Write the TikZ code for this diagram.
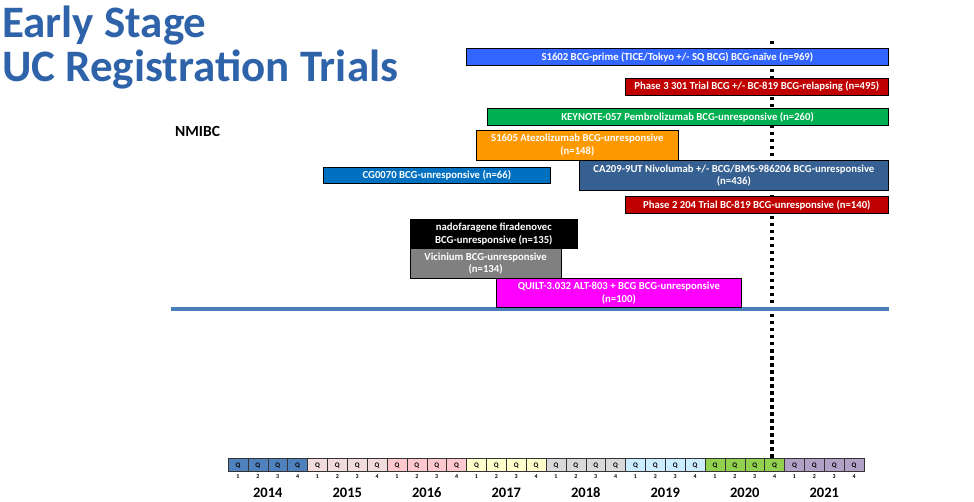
\documentclass[tikz,border=0pt]{standalone}
\usepackage{fontspec}
\setmainfont{Carlito}
\definecolor{titleblue}{RGB}{46,99,170}
\definecolor{cBlueA}{RGB}{51,102,255}
\definecolor{cRed}{RGB}{192,0,0}
\definecolor{cGreen}{RGB}{0,176,80}
\definecolor{cOrange}{RGB}{255,153,0}
\definecolor{cBlueB}{RGB}{0,112,192}
\definecolor{cSteel}{RGB}{55,96,146}
\definecolor{cGray}{RGB}{128,128,128}
\definecolor{cMag}{RGB}{255,0,255}
\definecolor{lineblue}{RGB}{74,126,187}
\definecolor{y14}{RGB}{79,129,189}
\definecolor{y15}{RGB}{242,220,219}
\definecolor{y16}{RGB}{255,199,206}
\definecolor{y17}{RGB}{255,255,204}
\definecolor{y18}{RGB}{217,217,217}
\definecolor{y19}{RGB}{204,236,255}
\definecolor{y20}{RGB}{146,208,80}
\definecolor{y21}{RGB}{178,161,199}
\tikzset{
  trialbar/.style={draw=black, line width=0.7pt, text=white, font=\fontsize{10.7}{12.6}\selectfont\bfseries, align=center, inner sep=0pt, anchor=north west},
  qcell/.style={draw=black!80, line width=0.5pt},
  qlbl/.style={font=\fontsize{7}{7}\selectfont\bfseries, inner sep=0pt, anchor=base},
  qnum/.style={font=\fontsize{6}{6}\selectfont\bfseries, inner sep=0pt, anchor=base},
  yearlbl/.style={font=\fontsize{14.5}{16}\selectfont\bfseries, inner sep=0pt, anchor=base},
  titletext/.style={anchor=base west, inner sep=0pt, text=titleblue, font=\fontsize{45}{50}\selectfont\bfseries},
}
\begin{document}
\begin{tikzpicture}[x=1pt,y=-1pt]
\useasboundingbox (0,0) rectangle (974,502);
% title
\node[titletext] (t1) at (2,38) {Early Stage};
\node[titletext] (t2) at (2,82) {UC Registration Trials};
\node[anchor=base west, inner sep=0pt, font=\fontsize{15.5}{17}\selectfont\bfseries] (nmibc) at (175,137) {NMIBC};

% dotted vertical marker (behind bars)
\coordinate (vt) at (772,41);
\coordinate (vb) at (772,457.5);
\draw[black, line width=3.5pt, dash pattern=on 3.5pt off 3.5pt] (vt) -- (vb);

% divider line
\coordinate (hl) at (171,309);
\coordinate (hr) at (889,309);
\draw[lineblue, line width=4pt] (hl) -- (hr);

% bars
\node[trialbar, fill=cBlueA, minimum width=422pt, minimum height=17.5pt] (b1) at (466,48) {S1602 BCG-prime (TICE/Tokyo +/- SQ BCG) BCG-naïve (n=969)};
\node[trialbar, fill=cRed, minimum width=263pt, minimum height=17pt] (b2) at (625,78) {Phase 3 301 Trial BCG +/- BC-819 BCG-relapsing (n=495)};
\node[trialbar, fill=cGreen, minimum width=401.5pt, minimum height=17pt] (b3) at (486.5,108.5) {KEYNOTE-057 Pembrolizumab BCG-unresponsive (n=260)};
\node[trialbar, fill=cOrange, minimum width=202pt, minimum height=30pt] (b4) at (476,130) {S1605 Atezolizumab BCG-unresponsive\\(n=148)};
\node[trialbar, fill=cBlueB, minimum width=227pt, minimum height=16pt] (b5) at (323,167.5) {CG0070 BCG-unresponsive (n=66)};
\node[trialbar, fill=cSteel, minimum width=309pt, minimum height=29.5pt] (b6) at (579,160.5) {CA209-9UT Nivolumab +/- BCG/BMS-986206 BCG-unresponsive\\(n=436)};
\node[trialbar, fill=cRed, minimum width=263pt, minimum height=17.5pt] (b7) at (625,196) {Phase 2 204 Trial BC-819 BCG-unresponsive (n=140)};
\node[trialbar, fill=black, minimum width=167pt, minimum height=29pt] (b8) at (410,219.5) {nadofaragene firadenovec\\BCG-unresponsive (n=135)};
\node[trialbar, fill=cGray, minimum width=151.5pt, minimum height=29.5pt] (b9) at (409.5,248.5) {Vicinium BCG-unresponsive\\(n=134)};
\node[trialbar, fill=cMag, minimum width=245pt, minimum height=29pt] (b10) at (496,278) {QUILT-3.032 ALT-803 + BCG BCG-unresponsive\\(n=100)};

% timeline
\foreach \yr/\col [count=\i from 0] in {2014/y14,2015/y15,2016/y16,2017/y17,2018/y18,2019/y19,2020/y20,2021/y21}{
  \foreach \q in {1,2,3,4}{
    \pgfmathsetmacro{\xa}{228+(\i*4+\q-1)*19.875}
    \pgfmathsetmacro{\xb}{\xa+19.875}
    \pgfmathsetmacro{\xc}{\xa+9.94}
    \path[qcell, fill=\col] (\xa,458) rectangle (\xb,471.5);
    \node[qlbl] (q\i\q) at (\xc,467.5) {Q};
    \node[qnum] (n\i\q) at (\xc,478.5) {\q};
  }
  \pgfmathsetmacro{\xy}{228+\i*79.5+39.75}
  \node[yearlbl] (yr\i) at (\xy,497) {\yr};
}
\end{tikzpicture}
\end{document}
